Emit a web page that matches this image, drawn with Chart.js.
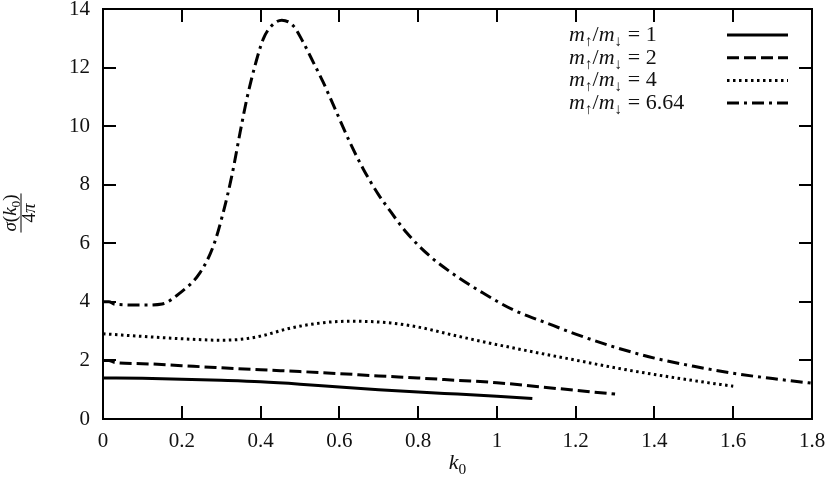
<!DOCTYPE html>
<html>
<head>
<meta charset="utf-8">
<script src="https://cdn.jsdelivr.net/npm/chart.js@4/dist/chart.umd.min.js"></script>
<style>
  html, body { margin: 0; padding: 0; background: #fff; }
  #wrap { width: 830px; height: 489px; }
</style>
</head>
<body>
<div id="wrap"><canvas id="sigma-chart"></canvas></div>
<script>
// mass ratios m_up / m_down, one curve each
const ratios = ['1', '2', '4', '6.64'];

const k0_r1 = [0, 0.1, 0.2, 0.3, 0.4, 0.5, 0.6, 0.7, 0.8, 0.9, 1.0, 1.09];
const sigma_r1 = [1.40, 1.39, 1.36, 1.32, 1.27, 1.19, 1.09, 1.00, 0.92, 0.85, 0.78, 0.70];

const k0_r2 = [0, 0.015, 0.03, 0.1, 0.2, 0.3, 0.4, 0.5, 0.6, 0.7, 0.8, 0.9, 1.0, 1.1, 1.2, 1.3];
const sigma_r2 = [2.0, 2.0, 1.93, 1.89, 1.82, 1.75, 1.68, 1.62, 1.55, 1.47, 1.40, 1.32, 1.24, 1.11, 0.98, 0.85];

const k0_r4 = [0, 0.1, 0.2, 0.3, 0.35, 0.4, 0.475, 0.56, 0.63, 0.73, 0.8, 0.9, 1.0, 1.1, 1.2, 1.3, 1.4, 1.5, 1.6];
const sigma_r4 = [2.91, 2.82, 2.74, 2.69, 2.72, 2.83, 3.10, 3.29, 3.34, 3.28, 3.14, 2.83, 2.54, 2.27, 2.01, 1.75, 1.52, 1.31, 1.12];

const k0_r664 = [0, 0.015, 0.03, 0.1, 0.15, 0.195, 0.246, 0.28, 0.305, 0.327, 0.348, 0.365, 0.386, 0.407,
  0.428, 0.454, 0.483, 0.508, 0.534, 0.559, 0.593, 0.627, 0.661, 0.699, 0.72, 0.771, 0.83, 0.898, 0.965,
  1.041, 1.126, 1.2, 1.3, 1.4, 1.5, 1.6, 1.7, 1.8];
const sigma_r664 = [4.0, 4.0, 3.92, 3.89, 3.93, 4.30, 4.99, 5.90, 7.04, 8.30, 9.78, 10.92, 12.07, 12.98,
  13.43, 13.62, 13.43, 12.87, 12.18, 11.50, 10.47, 9.44, 8.53, 7.67, 7.27, 6.36, 5.56, 4.87, 4.30,
  3.73, 3.28, 2.9, 2.45, 2.08, 1.8, 1.56, 1.38, 1.22];

const xTicks = [0, 0.2, 0.4, 0.6, 0.8, 1, 1.2, 1.4, 1.6, 1.8];
const yTicks = [0, 2, 4, 6, 8, 10, 12, 14];

const dashes = [[], [12, 5], [2.5, 3.5], [12, 5, 3, 5]];

const serif = '"Liberation Serif", "DejaVu Serif", serif';

const toPoints = (xs, ys) => xs.map((x, i) => ({ x, y: ys[i] }));

const series = [
  toPoints(k0_r1, sigma_r1),
  toPoints(k0_r2, sigma_r2),
  toPoints(k0_r4, sigma_r4),
  toPoints(k0_r664, sigma_r664),
];

// draws a run of text pieces (italic / subscript) starting at x
const drawPieces = (ctx, pieces, x, y, size) => {
  let cx = x;
  pieces.forEach((p) => {
    const fs = p.sub ? size * 0.7 : size;
    ctx.font = `${p.it ? 'italic ' : ''}${fs}px ${serif}`;
    ctx.fillText(p.t, cx, y + (p.sub ? size * 0.22 : 0));
    cx += ctx.measureText(p.t).width;
  });
  return cx - x;
};

const measurePieces = (ctx, pieces, size) => {
  let w = 0;
  pieces.forEach((p) => {
    const fs = p.sub ? size * 0.7 : size;
    ctx.font = `${p.it ? 'italic ' : ''}${fs}px ${serif}`;
    w += ctx.measureText(p.t).width;
  });
  return w;
};

const framePlugin = {
  id: 'frame',
  afterDraw(chart) {
    const { ctx, chartArea: a, scales } = chart;
    ctx.save();
    ctx.strokeStyle = '#000';
    ctx.lineWidth = 2;
    ctx.strokeRect(a.left, a.top, a.right - a.left, a.bottom - a.top);

    // inward ticks on all four sides
    const tl = 13;
    ctx.beginPath();
    xTicks.forEach((v) => {
      const px = Math.round(scales.x.getPixelForValue(v));
      ctx.moveTo(px, a.bottom); ctx.lineTo(px, a.bottom - tl);
      ctx.moveTo(px, a.top); ctx.lineTo(px, a.top + tl);
    });
    yTicks.forEach((v) => {
      const py = Math.round(scales.y.getPixelForValue(v));
      ctx.moveTo(a.left, py); ctx.lineTo(a.left + tl, py);
      ctx.moveTo(a.right, py); ctx.lineTo(a.right - tl, py);
    });
    ctx.stroke();

    // key, text first then a sample of the line
    ctx.fillStyle = '#111';
    ctx.textBaseline = 'alphabetic';
    ctx.textAlign = 'left';
    ratios.forEach((r, i) => {
      const ly = 35 + i * 22.7;
      drawPieces(ctx, [
        { t: 'm', it: true }, { t: '↑', sub: true }, { t: '/', it: false },
        { t: 'm', it: true }, { t: '↓', sub: true }, { t: ' = ' + r },
      ], 569, ly + 6, 22);
      ctx.setLineDash(dashes[i]);
      ctx.lineWidth = 3;
      ctx.beginPath();
      ctx.moveTo(727, ly);
      ctx.lineTo(788, ly);
      ctx.stroke();
    });
    ctx.setLineDash([]);

    // x axis title k_0
    const xt = [{ t: 'k', it: true }, { t: '0', sub: true }];
    const xw = measurePieces(ctx, xt, 22);
    drawPieces(ctx, xt, (a.left + a.right) / 2 - xw / 2, 469, 22);

    // y axis title: sigma(k_0) over 4 pi, rotated
    ctx.translate(21, 213);
    ctx.rotate(-Math.PI / 2);
    const num = [{ t: 'σ', it: true }, { t: '(' }, { t: 'k', it: true }, { t: '0', sub: true }, { t: ')' }];
    const den = [{ t: '4' }, { t: 'π', it: true }];
    const fs = 19;
    const nw = measurePieces(ctx, num, fs);
    const dw = measurePieces(ctx, den, fs);
    drawPieces(ctx, num, -nw / 2, -5, fs);
    drawPieces(ctx, den, -dw / 2, 14, fs);
    ctx.lineWidth = 1;
    ctx.beginPath();
    ctx.moveTo(-nw / 2 - 1, 0);
    ctx.lineTo(nw / 2 + 1, 0);
    ctx.stroke();
    ctx.restore();
  },
};

new Chart(document.getElementById('sigma-chart'), {
  type: 'line',
  data: {
    datasets: series.map((pts, i) => ({
      label: 'm↑/m↓ = ' + ratios[i],
      data: pts,
      borderColor: '#000',
      borderWidth: 3,
      borderDash: dashes[i],
      pointRadius: 0,
      fill: false,
      cubicInterpolationMode: 'monotone',
    })),
  },
  options: {
    responsive: true,
    maintainAspectRatio: false,
    animation: false,
    layout: { padding: { left: 0, top: 9, right: 18, bottom: 0 } },
    plugins: { legend: { display: false }, tooltip: { enabled: false } },
    scales: {
      x: {
        type: 'linear',
        min: 0,
        max: 1.8,
        afterBuildTicks: (s) => { s.ticks = xTicks.map((v) => ({ value: v })); },
        afterFit: (s) => { s.height = 70; s.paddingLeft = 0; s.paddingRight = 0; },
        grid: { display: false, drawTicks: false },
        border: { display: false },
        ticks: {
          padding: 10,
          color: '#111',
          font: { family: serif, size: 21 },
          maxRotation: 0,
          callback: (v) => String(Number(v.toFixed(1))),
        },
      },
      y: {
        min: 0,
        max: 14,
        afterBuildTicks: (s) => { s.ticks = yTicks.map((v) => ({ value: v })); },
        afterFit: (s) => { s.width = 103; s.paddingTop = 0; s.paddingBottom = 0; },
        grid: { display: false, drawTicks: false },
        border: { display: false },
        ticks: {
          padding: 13,
          color: '#111',
          font: { family: serif, size: 21 },
        },
      },
    },
  },
  plugins: [framePlugin],
});
</script>
</body>
</html>
